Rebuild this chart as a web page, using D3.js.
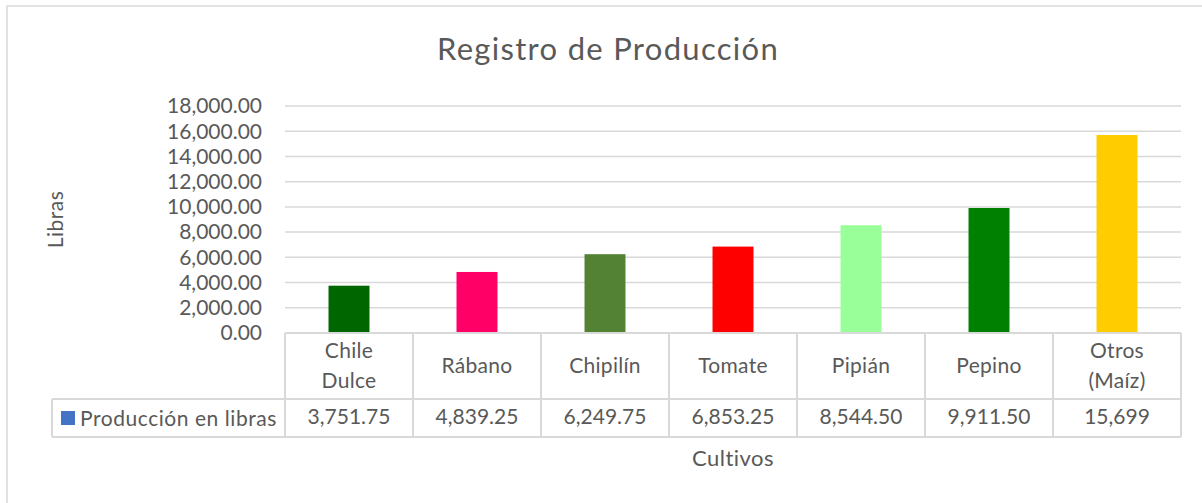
<!DOCTYPE html>
<html>
<head>
<meta charset="utf-8">
<script src="https://cdn.jsdelivr.net/npm/d3@7"></script>
<style>
  body { margin: 0; background: #fff; }
  text { font-family: Lato, "Open Sans", sans-serif; fill: #595959; }
</style>
</head>
<body>
<div id="chart"></div>
<script>
// chart values
const cultivos = [["Chile", "Dulce"], ["Rábano"], ["Chipilín"], ["Tomate"], ["Pipián"], ["Pepino"], ["Otros", "(Maíz)"]];
const produccion = [3751.75, 4839.25, 6249.75, 6853.25, 8544.50, 9911.50, 15699];
const etiquetas = ["3,751.75", "4,839.25", "6,249.75", "6,853.25", "8,544.50", "9,911.50", "15,699"];
const colores = ["#006600", "#FF0066", "#548235", "#FF0000", "#99FF99", "#008000", "#FFCC00"];
const yTicks = [0, 2000, 4000, 6000, 8000, 10000, 12000, 14000, 16000, 18000];
const serieNombre = "Producción en libras";

const width = 1202, height = 503;
const plot = { left: 285, right: 1181, top: 106, bottom: 333 };
const rowMid = 399, rowBottom = 437, legendLeft = 52;
const lineColor = "#d9d9d9";

const svg = d3.select("#chart").append("svg")
    .attr("width", width)
    .attr("height", height);

// chart border
svg.append("rect")
    .attr("x", 7).attr("y", 6)
    .attr("width", width + 10).attr("height", height + 10)
    .attr("fill", "none")
    .attr("stroke", lineColor)
    .attr("stroke-width", 1.5);

const x = d3.scaleBand()
    .domain(d3.range(cultivos.length))
    .range([plot.left, plot.right])
    .padding(0);

const y = d3.scaleLinear()
    .domain([0, 18000])
    .range([plot.bottom, plot.top]);

// gridlines
svg.append("g")
    .selectAll("line")
    .data(yTicks.filter(d => d > 0))
    .join("line")
    .attr("x1", plot.left).attr("x2", plot.right)
    .attr("y1", d => y(d)).attr("y2", d => y(d))
    .attr("stroke", lineColor)
    .attr("stroke-width", 1.5);

// y axis labels
const fmt = d3.format(",.2f");
svg.append("g")
    .selectAll("text")
    .data(yTicks)
    .join("text")
    .attr("x", 262)
    .attr("y", d => y(d))
    .attr("dy", "0.35em")
    .attr("text-anchor", "end")
    .style("font-size", "21px")
    .text(d => fmt(d));

// bars
const barW = x.bandwidth() * 0.32;
svg.append("g")
    .selectAll("rect")
    .data(produccion)
    .join("rect")
    .attr("x", (d, i) => x(i) + (x.bandwidth() - barW) / 2)
    .attr("y", d => y(d))
    .attr("width", barW)
    .attr("height", d => y(0) - y(d))
    .attr("fill", (d, i) => colores[i]);

// data table
const table = svg.append("g")
    .attr("stroke", lineColor)
    .attr("stroke-width", 2)
    .attr("fill", "none");

table.append("line")
    .attr("x1", plot.left).attr("x2", plot.right)
    .attr("y1", plot.bottom).attr("y2", plot.bottom);
table.append("line")
    .attr("x1", legendLeft).attr("x2", plot.right)
    .attr("y1", rowMid).attr("y2", rowMid);
table.append("line")
    .attr("x1", legendLeft).attr("x2", plot.right)
    .attr("y1", rowBottom).attr("y2", rowBottom);
table.append("line")
    .attr("x1", legendLeft).attr("x2", legendLeft)
    .attr("y1", rowMid).attr("y2", rowBottom);
table.selectAll(".col")
    .data(d3.range(cultivos.length + 1))
    .join("line")
    .attr("x1", i => plot.left + i * x.step())
    .attr("x2", i => plot.left + i * x.step())
    .attr("y1", plot.bottom).attr("y2", rowBottom);

// category labels
svg.append("g")
    .selectAll("text")
    .data(cultivos)
    .join("text")
    .attr("text-anchor", "middle")
    .style("font-size", "21px")
    .style("letter-spacing", "0.3px")
    .each(function(d, i) {
      const cx = x(i) + x.bandwidth() / 2;
      const lines = d.length === 1 ? [373] : [358, 388];
      d3.select(this).selectAll("tspan")
        .data(d)
        .join("tspan")
        .attr("x", cx)
        .attr("y", (t, j) => lines[j])
        .text(t => t);
    });

// values row
svg.append("g")
    .selectAll("text")
    .data(etiquetas)
    .join("text")
    .attr("x", (d, i) => x(i) + x.bandwidth() / 2)
    .attr("y", 424)
    .attr("text-anchor", "middle")
    .style("font-size", "21px")
    .text(d => d);

// legend key
svg.append("rect")
    .attr("x", 61).attr("y", 411)
    .attr("width", 14).attr("height", 14)
    .attr("fill", "#4472C4");
svg.append("text")
    .attr("x", 80).attr("y", 426)
    .style("font-size", "21px")
    .style("letter-spacing", "0.55px")
    .text(serieNombre);

// title
svg.append("text")
    .attr("x", 608).attr("y", 60)
    .attr("text-anchor", "middle")
    .style("font-size", "31px")
    .style("letter-spacing", "1.3px")
    .text("Registro de Producción");

// axis titles
svg.append("text")
    .attr("transform", `translate(63,${(plot.top + plot.bottom) / 2}) rotate(-90)`)
    .attr("text-anchor", "middle")
    .style("font-size", "21px")
    .style("letter-spacing", "0.5px")
    .text("Libras");

svg.append("text")
    .attr("x", (plot.left + plot.right) / 2)
    .attr("y", 466)
    .attr("text-anchor", "middle")
    .style("font-size", "22px")
    .style("letter-spacing", "0.5px")
    .text("Cultivos");
</script>
</body>
</html>
